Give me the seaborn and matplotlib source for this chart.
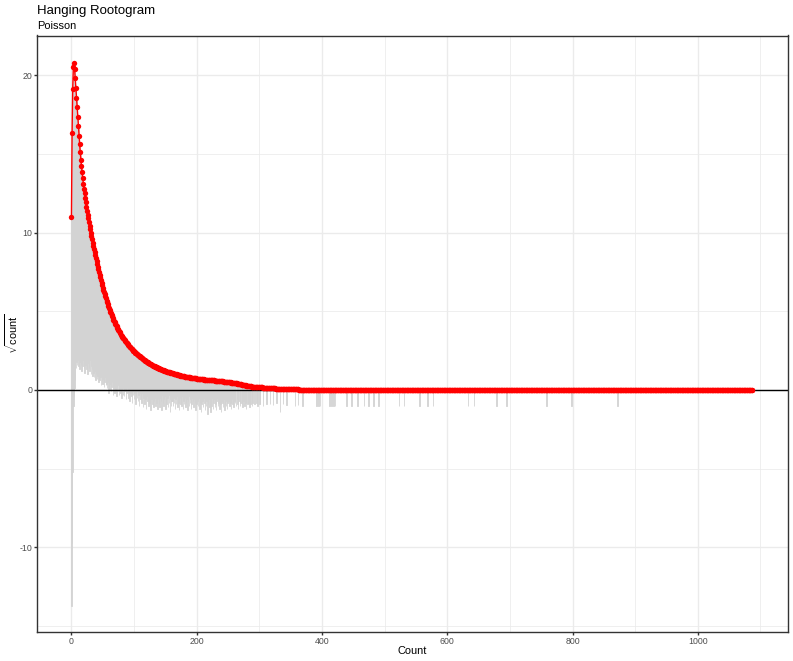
import numpy as np
import pandas as pd
import matplotlib
matplotlib.use("Agg")
import matplotlib.pyplot as plt
import seaborn as sns

# ---------------- text ----------------
title = "Hanging Rootogram"
subtitle = "Poisson"
x_label = "Count"
y_label = r"$\sqrt{\mathrm{count}}$"
x_ticks = [0, 200, 400, 600, 800, 1000]
y_ticks = [-10, 0, 10, 20]

# ---------------- data ----------------
# sqrt(expected frequency) for counts 0, 1, 2, ...
sqrt_expected_head = [
    11.0, 16.3, 19.1, 20.5, 20.8, 20.4, 19.8, 19.2, 18.55, 17.95,
    17.35, 16.75, 16.15, 15.6, 15.1, 14.62, 14.2, 13.82, 13.44, 13.1,
    12.78, 12.49, 12.19, 11.91, 11.64, 11.39, 11.13, 10.9, 10.67, 10.43,
    10.22,
    10.0, 9.78, 9.57, 9.36, 9.16, 8.96, 8.76, 8.57, 8.38, 8.2,
    8.02, 7.84, 7.67, 7.5, 7.33, 7.16, 6.99, 6.82, 6.66, 6.5,
    6.36, 6.22, 6.08, 5.94, 5.81, 5.68, 5.56, 5.44, 5.32, 5.2,
    5.09, 4.98, 4.87, 4.77, 4.67, 4.57, 4.47, 4.38, 4.29, 4.2,
    4.12, 4.04, 3.96, 3.88, 3.8, 3.73, 3.66, 3.59, 3.52, 3.45,
    3.39, 3.33, 3.27, 3.21, 3.15, 3.1, 3.05, 3.0, 2.95, 2.9,
    2.85, 2.8, 2.75, 2.71, 2.67, 2.62, 2.58, 2.54, 2.5, 2.45,
    2.41, 2.37, 2.34, 2.3, 2.27, 2.23, 2.2, 2.17, 2.13, 2.1,
    2.07, 2.04, 2.01, 1.98, 1.95, 1.92, 1.89, 1.86, 1.83, 1.8,
    1.77, 1.75, 1.72, 1.7, 1.67, 1.65, 1.62, 1.6, 1.57, 1.55,
    1.53, 1.51, 1.49, 1.47, 1.45, 1.43, 1.41, 1.39, 1.37, 1.35,
    1.33, 1.32, 1.3, 1.29, 1.27, 1.26, 1.24, 1.23, 1.21, 1.2,
    1.19, 1.17, 1.16, 1.15, 1.13, 1.12, 1.11, 1.09, 1.08, 1.07,
    1.06, 1.05, 1.03, 1.02, 1.01, 1.0, 0.99, 0.98, 0.96, 0.95,
    0.94, 0.93, 0.92, 0.91, 0.9, 0.9, 0.89, 0.88, 0.87, 0.86,
    0.85, 0.84, 0.84, 0.83, 0.82, 0.81, 0.8, 0.8, 0.79, 0.78,
    0.77, 0.77, 0.76, 0.76, 0.75, 0.75, 0.74, 0.73, 0.73, 0.72,
    0.72, 0.71, 0.71, 0.7, 0.7, 0.69, 0.69, 0.68, 0.68, 0.67,
    0.67, 0.66, 0.66, 0.66, 0.65, 0.65, 0.64, 0.64, 0.63, 0.63,
    0.63, 0.62, 0.62, 0.61, 0.61, 0.61, 0.6, 0.6, 0.59, 0.59,
    0.59, 0.58, 0.58, 0.57, 0.57, 0.57, 0.56, 0.56, 0.55, 0.55,
    0.54, 0.54, 0.53, 0.53, 0.52, 0.52, 0.51, 0.51, 0.5, 0.5,
    0.49, 0.49, 0.48, 0.48, 0.47, 0.47, 0.46, 0.45, 0.45, 0.44,
    0.43, 0.42, 0.41, 0.41, 0.4, 0.39, 0.38, 0.38, 0.37, 0.36,
    0.35, 0.34, 0.33, 0.32, 0.31, 0.31, 0.3, 0.29, 0.28, 0.27,
    0.26, 0.25, 0.25, 0.24, 0.23, 0.23, 0.22, 0.21, 0.21, 0.2,
    0.2, 0.2, 0.19, 0.19, 0.19, 0.18, 0.18, 0.18, 0.17, 0.17,
    0.17, 0.16, 0.16, 0.16, 0.16, 0.15, 0.15, 0.15, 0.14, 0.14,
    0.14, 0.13, 0.13, 0.13, 0.13, 0.12, 0.12, 0.12, 0.11, 0.11,
    0.11, 0.1, 0.1, 0.1, 0.1, 0.09, 0.09, 0.09, 0.08, 0.08,
    0.08, 0.08, 0.07, 0.07, 0.07, 0.07, 0.07, 0.06, 0.06, 0.06,
    0.06, 0.06, 0.05, 0.05, 0.05, 0.05, 0.05, 0.04, 0.04, 0.04,
    0.04, 0.04, 0.04, 0.04, 0.03, 0.03, 0.03, 0.03, 0.03, 0.03,
    0.03, 0.03, 0.02, 0.02, 0.02, 0.02, 0.02, 0.02, 0.02, 0.02,
    0.02, 0.02, 0.01, 0.01, 0.01, 0.01, 0.01, 0.01, 0.01, 0.01,
]
max_count = 1087            # last count with an expected value
sqrt_expected_tail = 0.0    # curve sits on zero beyond the head

# bottom of each hanging bar (sqrt(expected) - sqrt(observed)); None = no bar
bar_bottom_head = [
    -13.7, -9.7, -5.2, -1.0, -0.4, 0.1,
    0.6, 1.4, 1.8, 1.6, 1.9, 1.5, 1.7, 1.3, 1.8, 1.6,
    1.2, 1.7, 1.5, 1.9, 1.4, 1.1, 1.6, 1.8, 1.3, 1.5,
    1.0, 1.7, 1.4, 1.2, 1.9, 1.0, 1.5, 1.3, 0.9, 1.1,
    0.8, 1.2, 0.6, 1.0, 1.3, 0.7, 0.9, 0.5, 1.1, 0.6,
    0.8, 0.3, 0.9, 0.6, 0.4, 0.7, 0.2, 0.5, 0.8, 0.3,
    0.4, 0.1, 0.5, -0.2, 0.3, 0.0, 0.4, -0.1, 0.2, 0.5,
    -0.3, 0.1, 0.3, -0.2, 0.0, 0.2, -0.4, 0.1, -0.1, 0.3,
    -0.3, 0.0, -0.2, 0.2, -0.5,
    0.0, -0.3, 0.1, -0.4, -0.1, 0.0, -0.6, -0.2, 0.1, -0.3,
    -0.5, -0.1, -0.7, -0.2, 0.0, -0.4, -0.8, -0.3, -0.1, -0.6,
    -0.2, -0.9, -0.4, -0.1, -0.5, -0.7, -0.3, -1.0, -0.2, -0.6,
    -0.4, -0.8, -0.2, -1.1, -0.5, -0.3, -0.9, -0.6, -1.2, -0.4,
    -0.7, -0.2, -1.0, -0.5, -0.8, -1.3, -0.4, -0.6, -0.9, -0.3,
    -1.1, -0.7, -0.5, -1.0, -0.2, -0.8, -1.2, -0.6, -0.4, -0.9,
    -1.1, -0.5, -0.7, -1.3, -0.3, -0.8, -1.0, -0.6, -0.4, -1.2,
    -0.7, -0.9, -0.5, -1.1, -0.3, -0.8, -1.4, -0.6, -1.0, -0.7,
    -0.7, -1.0, -0.5, -0.8, -1.2, -0.6, -0.9, -0.4, -1.1, -0.7,
    -0.8, -1.3, -0.5, -0.9, -0.6, -1.0, -0.4, -1.2, -0.7, -0.9,
    -0.5, -1.1, -0.8, -0.6, -1.3, -0.7, -0.4, -1.0, -0.8, -0.6,
    -1.2, -0.9, -0.5, -0.7, -1.1, -0.6, -0.8, -1.3, -0.4, -0.9,
    -0.7, -1.0, -0.5, -1.2, -0.8, -0.6, -1.4, -0.9, -0.7, -1.1,
    -0.5, -0.8, -1.3, -0.6, -1.0, -0.7, -1.5, -0.9, -0.6, -1.1,
    -0.8, -1.4, -0.7, -1.0, -0.5, -1.2, -0.8, -0.6, -1.1, -0.9,
    -1.3, -0.7, -0.5, -1.0, -0.8, -1.2, -0.6, -0.9, -1.4, -0.7,
    -0.8, -1.1, -0.6, -1.3, -0.9, -0.7, -1.0, -1.2, -0.8, -0.6,
    -0.7, -1.0, None, -0.8, -1.2, -0.6, -0.9, None, -1.1, -0.7,
    -0.8, None, -1.0, -0.6, -0.9, -1.2, None, -0.7, -1.0, -0.8,
    None, -0.9, -1.1, None, -0.7, -1.0, None, -0.8, -1.2, None,
    -0.9, None, -0.8, -1.1, None, -0.9, None, -1.0, -0.8, None,
    None, -0.9, None, None, -0.8, None, -1.0, None, None, -0.9,
]
tail_bar_x = [301, 306, 311, 317, 322, 327, 333, 338, 343, 357, 362, 369,
              391, 394, 397, 412, 415, 418, 421, 439, 447, 457, 467, 474,
              482, 490, 523, 531, 556, 568, 577, 633, 643, 679, 695, 758,
              798, 872]
tail_bar_bottom = [-0.9, -1.0, -0.9, -0.9, -0.95, -0.8, -1.4, -0.9, -0.95,
                   -1.0, -0.95, -1.0, -1.0, -1.0, -1.0, -1.0, -1.0, -1.0,
                   -1.0, -1.0, -1.0, -1.0, -1.0, -1.0, -1.0, -1.0, -1.0,
                   -1.0, -1.0, -1.0, -1.0, -1.0, -1.0, -1.0, -1.0, -1.0,
                   -1.0, -1.0]

# ---------------- frames ----------------
counts = np.arange(0, max_count + 1)
sqrt_exp = np.full(len(counts), sqrt_expected_tail, dtype=float)
sqrt_exp[:len(sqrt_expected_head)] = sqrt_expected_head
curve = pd.DataFrame({"count": counts, "sqrt_expected": sqrt_exp})

bx, bb = [], []
for i, b in enumerate(bar_bottom_head):
    if b is not None:
        bx.append(i)
        bb.append(b)
bx += tail_bar_x
bb += tail_bar_bottom
bars = pd.DataFrame({"count": bx, "bottom": bb})
bars["top"] = sqrt_exp[bars["count"].values]

# ---------------- style ----------------
sns.set_theme(style="white")
plt.rcParams["font.family"] = ["Liberation Sans", "DejaVu Sans"]
plt.rcParams["mathtext.fontset"] = "custom"
plt.rcParams["mathtext.rm"] = "Liberation Sans"
plt.rcParams["mathtext.it"] = "Liberation Sans:italic"

W, H = 793, 661
fig = plt.figure(figsize=(W / 100, H / 100), dpi=100)
L, R, T, B = 37, 788, 35.5, 631.5
ax = fig.add_axes([L / W, 1 - B / H, (R - L) / W, (B - T) / H])

ax.set_xlim(-55, 1144)
ax.set_ylim(-15.35, 22.52)

grid_col = "#EBEBEB"
for v in [100, 300, 500, 700, 900, 1100]:
    ax.axvline(v, color=grid_col, lw=0.55, zorder=0)
for v in [-15, -5, 5, 15]:
    ax.axhline(v, color=grid_col, lw=0.55, zorder=0)
for v in x_ticks:
    ax.axvline(v, color=grid_col, lw=1.0, zorder=0)
for v in y_ticks:
    ax.axhline(v, color=grid_col, lw=1.0, zorder=0)

ax.bar(bars["count"], bars["top"] - bars["bottom"], bottom=bars["bottom"],
       width=0.9, color="#D3D3D3", edgecolor="#D3D3D3", linewidth=0.6,
       zorder=2)
ax.axhline(0, color="black", lw=1.0, zorder=3)

sns.lineplot(data=curve, x="count", y="sqrt_expected", color="red",
             linewidth=1.0, ax=ax, zorder=4)
sns.scatterplot(data=curve, x="count", y="sqrt_expected", color="red",
                s=15, linewidth=0, ax=ax, zorder=5)

ax.set_xticks(x_ticks)
ax.set_yticks(y_ticks)
ax.set_xticklabels([str(v) for v in x_ticks])
ax.set_yticklabels([str(v) for v in y_ticks])
ax.tick_params(axis="both", which="major", length=2.0, width=1.0,
               color="#333333", labelsize=6.3, labelcolor="#4D4D4D", pad=1.6,
               bottom=True, left=True)
for s in ax.spines.values():
    s.set_color("#333333")
    s.set_linewidth(1.0)
    s.set_zorder(6)
ax.set_xlabel("")
ax.set_ylabel("")

fig.text(L / W, 1 - 14 / H, title, fontsize=9.5, ha="left", va="baseline",
         color="black")
fig.text(L / W, 1 - 29.3 / H, subtitle, fontsize=7.9, ha="left",
         va="baseline", color="black")
fig.text((L + R) / 2 / W, 1 - 654.3 / H, x_label, fontsize=7.9, ha="center",
         va="baseline", color="black")
fig.text(12 / W, 1 - (T + B) / 2 / H, y_label, fontsize=7.9, ha="center",
         va="center", rotation=90, color="black")

fig.savefig("out.png", dpi=100)
